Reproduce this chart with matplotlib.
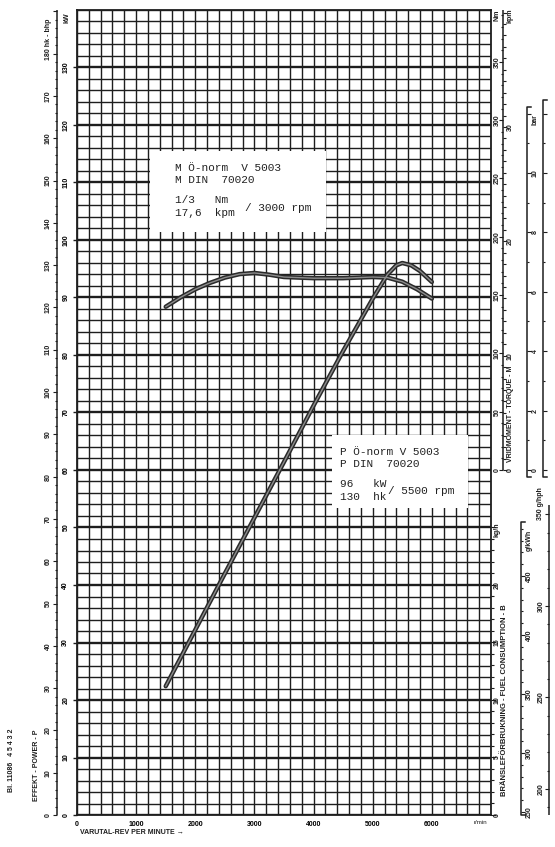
import numpy as np
import matplotlib.pyplot as plt
from matplotlib.patches import Rectangle

W, H = 555, 847
INK = "#1e1e1e"

# main grid area on the sheet, in pixels
X0, X1 = 77, 491
Y0, Y1 = 10, 815
RPM_MAX = 7000
KW_MAX = 140

# curves
power_rpm = [1500, 2000, 2500, 3000, 3500, 4000, 4500, 5000, 5250, 5400, 5500, 5650, 5800, 6000]
power_kw = [22.4, 32.2, 42.0, 51.7, 61.4, 71.2, 80.7, 89.8, 94.0, 95.6, 96.0, 95.6, 94.6, 92.7]

torque_rpm = [1500, 1750, 2000, 2250, 2500, 2750, 3000, 3250, 3500, 4000, 4500, 5000, 5250, 5500, 5750, 6000]
torque_nm = [140, 148, 155, 160.5, 165, 168, 169, 167.5, 165.5, 164.5, 164.5, 165.5, 165, 161.5, 155, 147]

rpm_labels = [0, 1000, 2000, 3000, 4000, 5000, 6000]
kw_labels = list(range(0, 140, 10))
hp_labels = list(range(0, 180, 10))
nm_labels = list(range(0, 400, 50))
kpm_labels = [0, 10, 20, 30]
fuel_labels = [0, 5, 10, 15, 20]
bar_labels = [0, 2, 4, 6, 8, 10]
gkwh_labels = [250, 300, 350, 400, 450]
ghph_labels = [200, 250, 300]

box_m = ["M Ö-norm  V 5003", "M DIN  70020", "1/3   Nm", "17,6  kpm"]
box_p = ["P Ö-norm V 5003", "P DIN  70020", "96   kW", "130  hk"]


# pixel positions of the side scales
def kw_y(kw):
    return Y1 - kw * (Y1 - Y0) / KW_MAX

def hp_y(hp):
    return kw_y(hp / 1.3596)

def nm_y(nm):
    return 470 - nm * 1.166

def nm_to_kw(nm):
    return (Y1 - nm_y(nm)) * KW_MAX / (Y1 - Y0)

def fuel_y(kg):
    return Y1 - kg * 11.5

def bar_y(b):
    return 470 - b * 29.7

def gkwh_y(g):
    return 812 - (g - 250) * 1.18

def ghph_y(g):
    return 789 - (g - 200) * 1.83


fig = plt.figure(figsize=(W / 100, H / 100), dpi=100)
fig.patch.set_facecolor("white")

ax = fig.add_axes([X0 / W, 1 - Y1 / H, (X1 - X0) / W, (Y1 - Y0) / H])
ax.set_xlim(0, RPM_MAX)
ax.set_ylim(0, KW_MAX)

# graph paper
ax.vlines(np.arange(0, RPM_MAX + 1, 200), 0, KW_MAX, color=INK, lw=1.0, zorder=1)
for v in range(0, KW_MAX + 1, 2):
    ax.axhline(v, color=INK, lw=1.7 if v % 10 == 0 else 1.0, zorder=1)
for s in ax.spines.values():
    s.set_linewidth(1.3)
    s.set_color(INK)

ax.set_xticks(rpm_labels)
ax.set_xticklabels([str(r) for r in rpm_labels])
ax.set_yticks(kw_labels)
ax.set_yticklabels([str(k) for k in kw_labels])
ax.tick_params(axis="x", length=0, pad=4, labelsize=5)
ax.tick_params(axis="y", length=3, width=1, pad=2.5, labelsize=5, labelrotation=90, color=INK)
for lab in ax.get_xticklabels() + ax.get_yticklabels():
    lab.set_fontweight("bold")
    lab.set_fontfamily("Liberation Sans")
for lab in ax.get_yticklabels():
    lab.set_va("center")

# curves, drawn as the hollow pen stroke of the scan
torque_kw = [nm_to_kw(t) for t in torque_nm]
for xs, ys in [(torque_rpm, torque_kw), (power_rpm, power_kw)]:
    ax.plot(xs, ys, color="#2a2a2a", lw=3.2, solid_capstyle="round", zorder=4)
    ax.plot(xs, ys, color="#8c8c8c", lw=1.0, solid_capstyle="round", zorder=5)

# overlay in sheet pixels for the printed scales and labels
ov = fig.add_axes([0, 0, 1, 1], zorder=5)
ov.set_xlim(0, W)
ov.set_ylim(H, 0)
ov.axis("off")
ov.patch.set_alpha(0)

small = dict(fontsize=5, fontweight="bold", fontfamily="Liberation Sans", color=INK)
rot = dict(rotation=90, ha="center", va="center")

# typed boxes
ov.add_patch(Rectangle((150, 151), 176, 81, facecolor="white", edgecolor="none", zorder=2))
ov.add_patch(Rectangle((332, 435), 136, 73, facecolor="white", edgecolor="none", zorder=2))
mono = dict(fontsize=8, fontfamily="Liberation Mono", color="#222222", va="center", ha="left", zorder=3)
for txt, yy in zip(box_m, [168, 180, 200, 213]):
    ov.text(175, yy, txt, **mono)
ov.text(245, 208, "/ 3000 rpm", **mono)
for txt, yy in zip(box_p, [452, 464, 484, 497]):
    ov.text(340, yy, txt, **mono)
ov.text(388, 491, "/ 5500 rpm", **mono)

# hp scale on the far left
ov.vlines(57, Y0, Y1, color=INK, lw=1.1)
for v in range(0, 191, 2):
    if hp_y(v) < Y0:
        break
    ov.hlines(hp_y(v), 57 - (4 if v % 10 == 0 else 2.5), 57, color=INK, lw=0.8)
for v in hp_labels:
    ov.text(48, hp_y(v), str(v), **small, **rot)
ov.text(48, hp_y(180) + 6, "180 hk - bhp", rotation=90, rotation_mode="anchor",
        ha="left", va="center", **small)
ov.text(67, 18, "kW", **small, **rot)

# torque scale
ov.vlines(503, Y0, nm_y(0), color=INK, lw=1.1)
for v in range(0, 400, 10):
    if nm_y(v) < Y0:
        break
    ov.hlines(nm_y(v), 503 - (4 if v % 50 == 0 else 2), 503, color=INK, lw=0.8)
for v in nm_labels:
    ov.text(497, nm_y(v), str(v), **small, **rot)
for k in range(0, 41):
    yy = nm_y(k * 9.80665)
    if yy < Y0:
        break
    ov.hlines(yy, 503, 503 + (4 if k % 10 == 0 else 2.5), color=INK, lw=0.8)
for k in kpm_labels:
    ov.text(510, nm_y(k * 9.80665), str(k), **small, **rot)
ov.text(497, 15, "Nm", **small, **rot)
ov.text(510, 16, "kpm", **small, **rot)
ov.text(510, 414, "VRIDMOMENT - TORQUE - M", fontsize=5, fontweight="bold",
        fontfamily="Liberation Sans", color=INK, **rot)

# mean pressure bracket and the clipped one next to it
ov.plot([531, 527, 527, 531], [107, 107, 477, 477], color=INK, lw=1.1)
for b in range(0, 13):
    ov.hlines(bar_y(b), 527, 527 + (4 if b % 2 == 0 else 2), color=INK, lw=0.8)
for b in bar_labels:
    ov.text(535, bar_y(b), str(b), **small, **rot)
ov.text(535, 120, "bar", **small, **rot)
ov.plot([547, 543, 543, 547], [100, 100, 477, 477], color=INK, lw=1.1)
for b in range(0, 13):
    ov.hlines(bar_y(b), 543, 543 + (4 if b % 2 == 0 else 2), color=INK, lw=0.8)

# fuel consumption scale
for kg in range(0, 26):
    ov.hlines(fuel_y(kg), X1, X1 + (5 if kg % 5 == 0 else 3), color=INK, lw=0.8)
for kg in fuel_labels:
    ov.text(497, fuel_y(kg), str(kg), **small, **rot)
ov.text(497, fuel_y(25) + 2, "kg/h", **small, **rot)
ov.text(504, 700, "BRÄNSLEFÖRBRUKNING - FUEL CONSUMPTION - B", fontsize=5.5, fontweight="bold",
        fontfamily="Liberation Sans", color=INK, **rot)

# specific consumption brackets
ov.plot([525, 521, 521, 525], [522, 522, 815, 815], color=INK, lw=1.1)
for g in range(250, 500, 10):
    ov.hlines(gkwh_y(g), 521, 521 + (4 if g % 50 == 0 else 2), color=INK, lw=0.8)
for g in gkwh_labels:
    ov.text(529, gkwh_y(g), str(g), **small, **rot)
ov.text(529, 540, "g/kWh", **small, **rot)
ov.vlines(549, 505, 815, color=INK, lw=1.1)
for g in range(190, 360, 10):
    ov.hlines(ghph_y(g), 549 - (4 if g % 50 == 0 else 2), 549, color=INK, lw=0.8)
for g in ghph_labels:
    ov.text(541, ghph_y(g), str(g), **small, **rot)
ov.text(541, ghph_y(350) + 6, "350 g/hph", rotation=90, rotation_mode="anchor",
        ha="left", va="center", **small)

# captions
ov.text(80, 833, "VARUTAL-REV PER MINUTE \u2192", ha="left", va="center", **small)
ov.text(480, 822, "r/min", ha="center", va="center", fontsize=4.5, fontfamily="Liberation Sans", color=INK)
ov.text(37, 765, "EFFEKT - POWER - P", **small, **rot)
ov.text(12, 760, "Bl. 11086   4 5 4 3 2", **small, **rot)

fig.savefig("out.png", dpi=100, facecolor="white")
